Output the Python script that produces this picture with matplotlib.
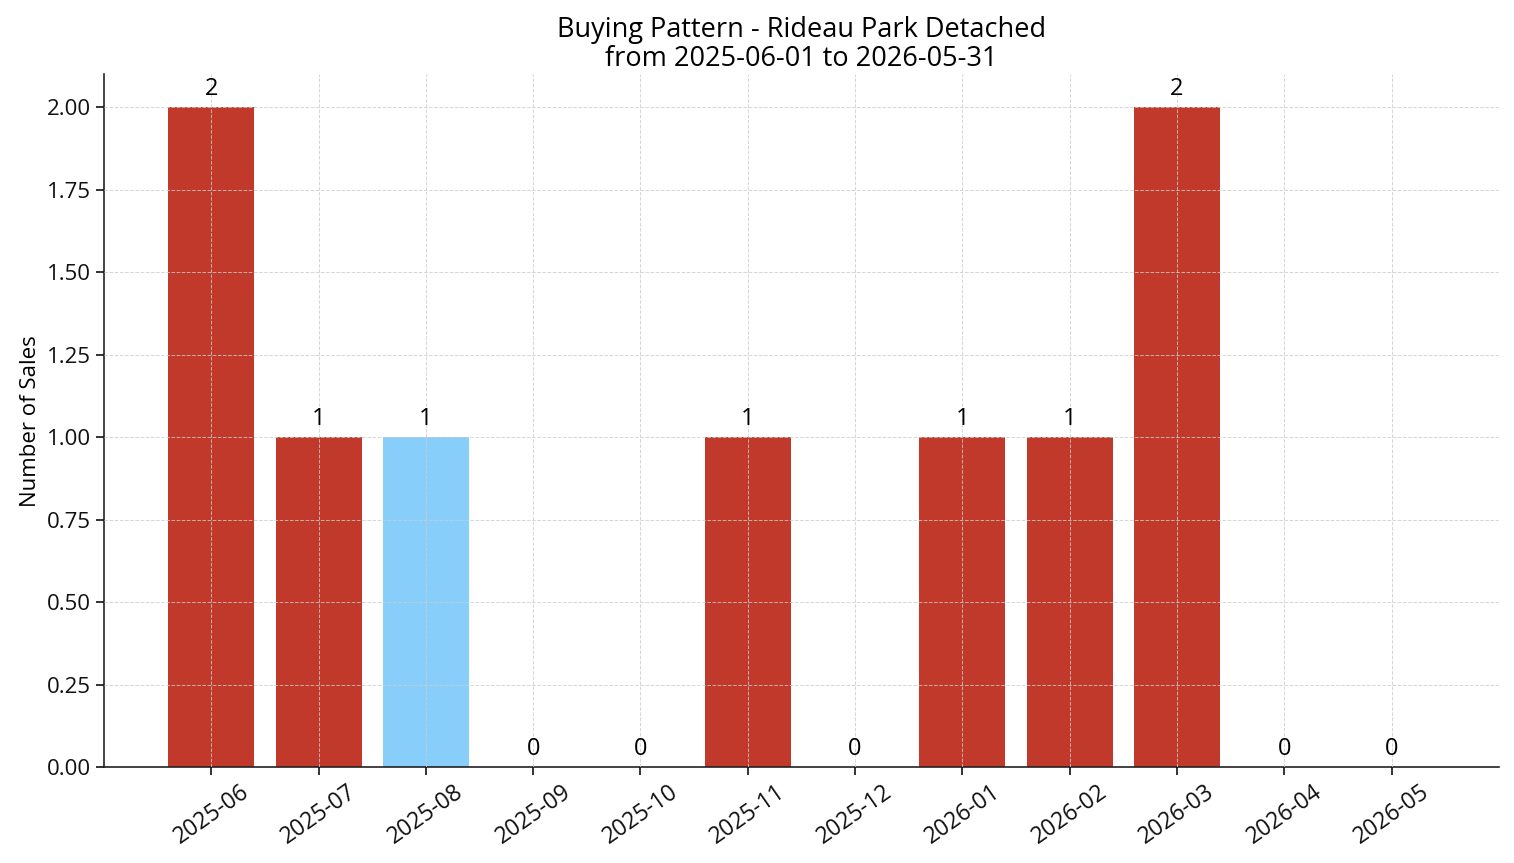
import matplotlib
matplotlib.use("Agg")
import matplotlib.pyplot as plt

plt.rcParams["font.family"] = ["Open Sans", "DejaVu Sans"]

months = ["2025-06", "2025-07", "2025-08", "2025-09", "2025-10", "2025-11",
          "2025-12", "2026-01", "2026-02", "2026-03", "2026-04", "2026-05"]
sales = [2, 1, 1, 0, 0, 1, 0, 1, 1, 2, 0, 0]
highlight = "2025-08"

colors = ["#87CEFA" if m == highlight else "#C0392B" for m in months]

fig, ax = plt.subplots(figsize=(15.14, 8.63), dpi=100)
fig.subplots_adjust(left=0.0687, right=0.990, top=0.914, bottom=0.111)
x = list(range(len(months)))
ax.bar(x, sales, color=colors, width=0.8)
for xi, v in zip(x, sales):
    ax.text(xi, v + 0.02, str(v), ha="center", va="bottom", fontsize=17)

ax.set_xticks(x)
ax.set_xticklabels(months, rotation=35, fontsize=16.5)
ax.tick_params(axis="y", labelsize=16)
ax.tick_params(colors="#111111", length=6, width=1.2)
ax.set_xlim(-1, 12)
ax.set_ylim(0, 2.1)
ax.set_ylabel("Number of Sales", fontsize=16)
ax.set_title("Buying Pattern - Rideau Park Detached\nfrom 2025-06-01 to 2026-05-31",
             fontsize=19.5, pad=6, linespacing=1.05)
ax.grid(True, linestyle="--", color="#cccccc", linewidth=0.7, alpha=0.8)
ax.set_axisbelow(False)
ax.spines["top"].set_visible(False)
ax.spines["right"].set_visible(False)
for s in ("left", "bottom"):
    ax.spines[s].set_color("#222222")
    ax.spines[s].set_linewidth(1.2)

fig.savefig("out.png", dpi=100)
